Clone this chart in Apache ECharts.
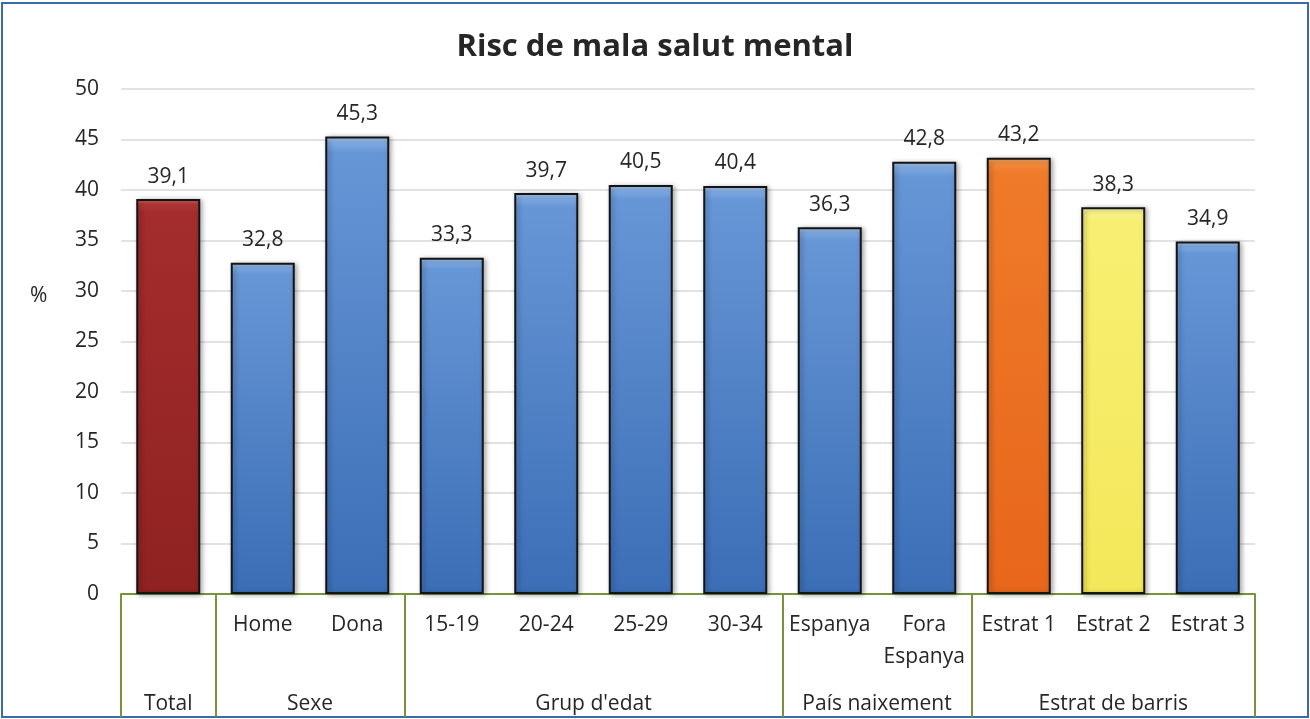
<!DOCTYPE html>
<html>
<head>
<meta charset="utf-8">
<title>Risc de mala salut mental</title>
<script src="https://cdn.jsdelivr.net/npm/echarts@6/dist/echarts.min.js"></script>
<style>
  html, body { margin: 0; padding: 0; background: #fff; }
  #chart { width: 1310px; height: 719px; }
</style>
</head>
<body>
<div id="chart"></div>
<script>
// Category labels (first level) and their values (%)
const categories = ['Total', 'Home', 'Dona', '15-19', '20-24', '25-29', '30-34',
                    'Espanya', 'Fora\nEspanya', 'Estrat 1', 'Estrat 2', 'Estrat 3'];
const values = [39.1, 32.8, 45.3, 33.3, 39.7, 40.5, 40.4, 36.3, 42.8, 43.2, 38.3, 34.9];

// Second-level groups and how many categories each spans
const groupNames = ['Total', 'Sexe', "Grup d'edat", 'País naixement', 'Estrat de barris'];
const groupSizes = [1, 2, 4, 2, 3];

// Value axis ticks
const yMin = 0, yMax = 50, yStep = 5;

const FONT = '"Open Sans", sans-serif';
const TEXT = '#262626';
const GREEN = '#77933c';
const FS = 21;

function grad(top, bright, mid, bottom) {
  return new echarts.graphic.LinearGradient(0, 0, 0, 1, [
    { offset: 0, color: top },
    { offset: 0.014, color: bright },
    { offset: 0.035, color: mid },
    { offset: 1, color: bottom }
  ]);
}
const palette = {
  'Total':    grad('#d86a6a', '#b33636', '#a42c2c', '#8f2222'),
  'Estrat 1': grad('#f8b070', '#f28a3a', '#ef7a2a', '#e7661b'),
  'Estrat 2': grad('#fbf7b8', '#f9f28a', '#f8ef72', '#f3e85a'),
  'default':  grad('#b5d2f4', '#7eaae2', '#6796d6', '#3b6eb6')
};

// Group boundaries and centres along the category scale
const bounds = [0];
groupSizes.forEach(s => bounds.push(bounds[bounds.length - 1] + s));
const centres = groupNames.map((n, i) => (bounds[i] + bounds[i + 1]) / 2);
// a category that forms a group on its own is only named in the group row
const soloGroups = new Set(groupNames.filter((n, i) => groupSizes[i] === 1));

const chart = echarts.init(document.getElementById('chart'), null, { renderer: 'canvas' });

chart.setOption({
  animation: false,
  backgroundColor: '#fff',
  title: {
    text: 'Risc de mala salut mental',
    left: 'center',
    top: 27,
    textStyle: { fontFamily: FONT, fontWeight: 'bold', fontSize: 31, color: TEXT }
  },
  graphic: [
    {
      type: 'rect',
      shape: { x: 2, y: 3, width: 1306, height: 714 },
      style: { fill: 'none', stroke: '#3a6aa8', lineWidth: 2 },
      silent: true
    },
    {
      type: 'text',
      left: 30, top: 286,
      style: { text: '%', font: FS + 'px ' + FONT, fill: TEXT }
    }
  ],
  grid: [
    { left: 121, right: 55, top: 89, bottom: 125, containLabel: false },
    { left: 121, right: 55, top: 594, bottom: 2, containLabel: false }
  ],
  xAxis: [
    {
      type: 'category',
      gridIndex: 0,
      data: categories,
      axisLine: { show: true, lineStyle: { color: GREEN, width: 2 } },
      axisTick: { show: false },
      axisLabel: {
        interval: 0, margin: 15, color: TEXT, fontFamily: FONT, fontSize: FS,
        lineHeight: 32, align: 'center',
        formatter: v => (soloGroups.has(v) ? '' : v)
      },
      splitLine: { show: false }
    },
    {
      type: 'value',
      gridIndex: 1,
      min: 0, max: categories.length,
      show: false
    }
  ],
  yAxis: [
    {
      type: 'value',
      gridIndex: 0,
      min: yMin, max: yMax, interval: yStep,
      axisLine: { show: false },
      axisTick: { show: false },
      axisLabel: { margin: 22, color: TEXT, fontFamily: FONT, fontSize: FS },
      splitLine: { lineStyle: { color: '#d9d9d9', width: 1.5 } }
    },
    {
      type: 'value',
      gridIndex: 1,
      min: 0, max: 1,
      show: false
    }
  ],
  series: [
    {
      type: 'bar',
      xAxisIndex: 0, yAxisIndex: 0,
      barWidth: 64,
      data: values.map((v, i) => ({
        value: v,
        itemStyle: { color: palette[categories[i]] || palette['default'] }
      })),
      itemStyle: {
        borderColor: '#141414',
        borderWidth: 2,
        shadowColor: 'rgba(0,0,0,0.35)',
        shadowBlur: 5,
        shadowOffsetX: 2,
        shadowOffsetY: 1
      },
      label: {
        show: true,
        position: 'top',
        distance: 12,
        color: TEXT,
        fontFamily: FONT,
        fontSize: FS,
        formatter: p => String(p.value).replace('.', ',')
      }
    },
    {
      // second-level group names and their separators
      type: 'scatter',
      xAxisIndex: 1, yAxisIndex: 1,
      symbolSize: 0,
      silent: true,
      itemStyle: { opacity: 1 },
      data: groupNames.map((n, i) => ({ value: [centres[i], 0.105], name: n })),
      label: {
        show: true,
        position: 'inside',
        formatter: p => p.name,
        color: TEXT,
        opacity: 1,
        fontFamily: FONT,
        fontSize: FS
      },
      markLine: {
        silent: true,
        symbol: 'none',
        label: { show: false },
        lineStyle: { color: GREEN, width: 2, type: 'solid', opacity: 1 },
        data: bounds.map(b => ({ xAxis: b }))
      }
    }
  ]
});
</script>
</body>
</html>
